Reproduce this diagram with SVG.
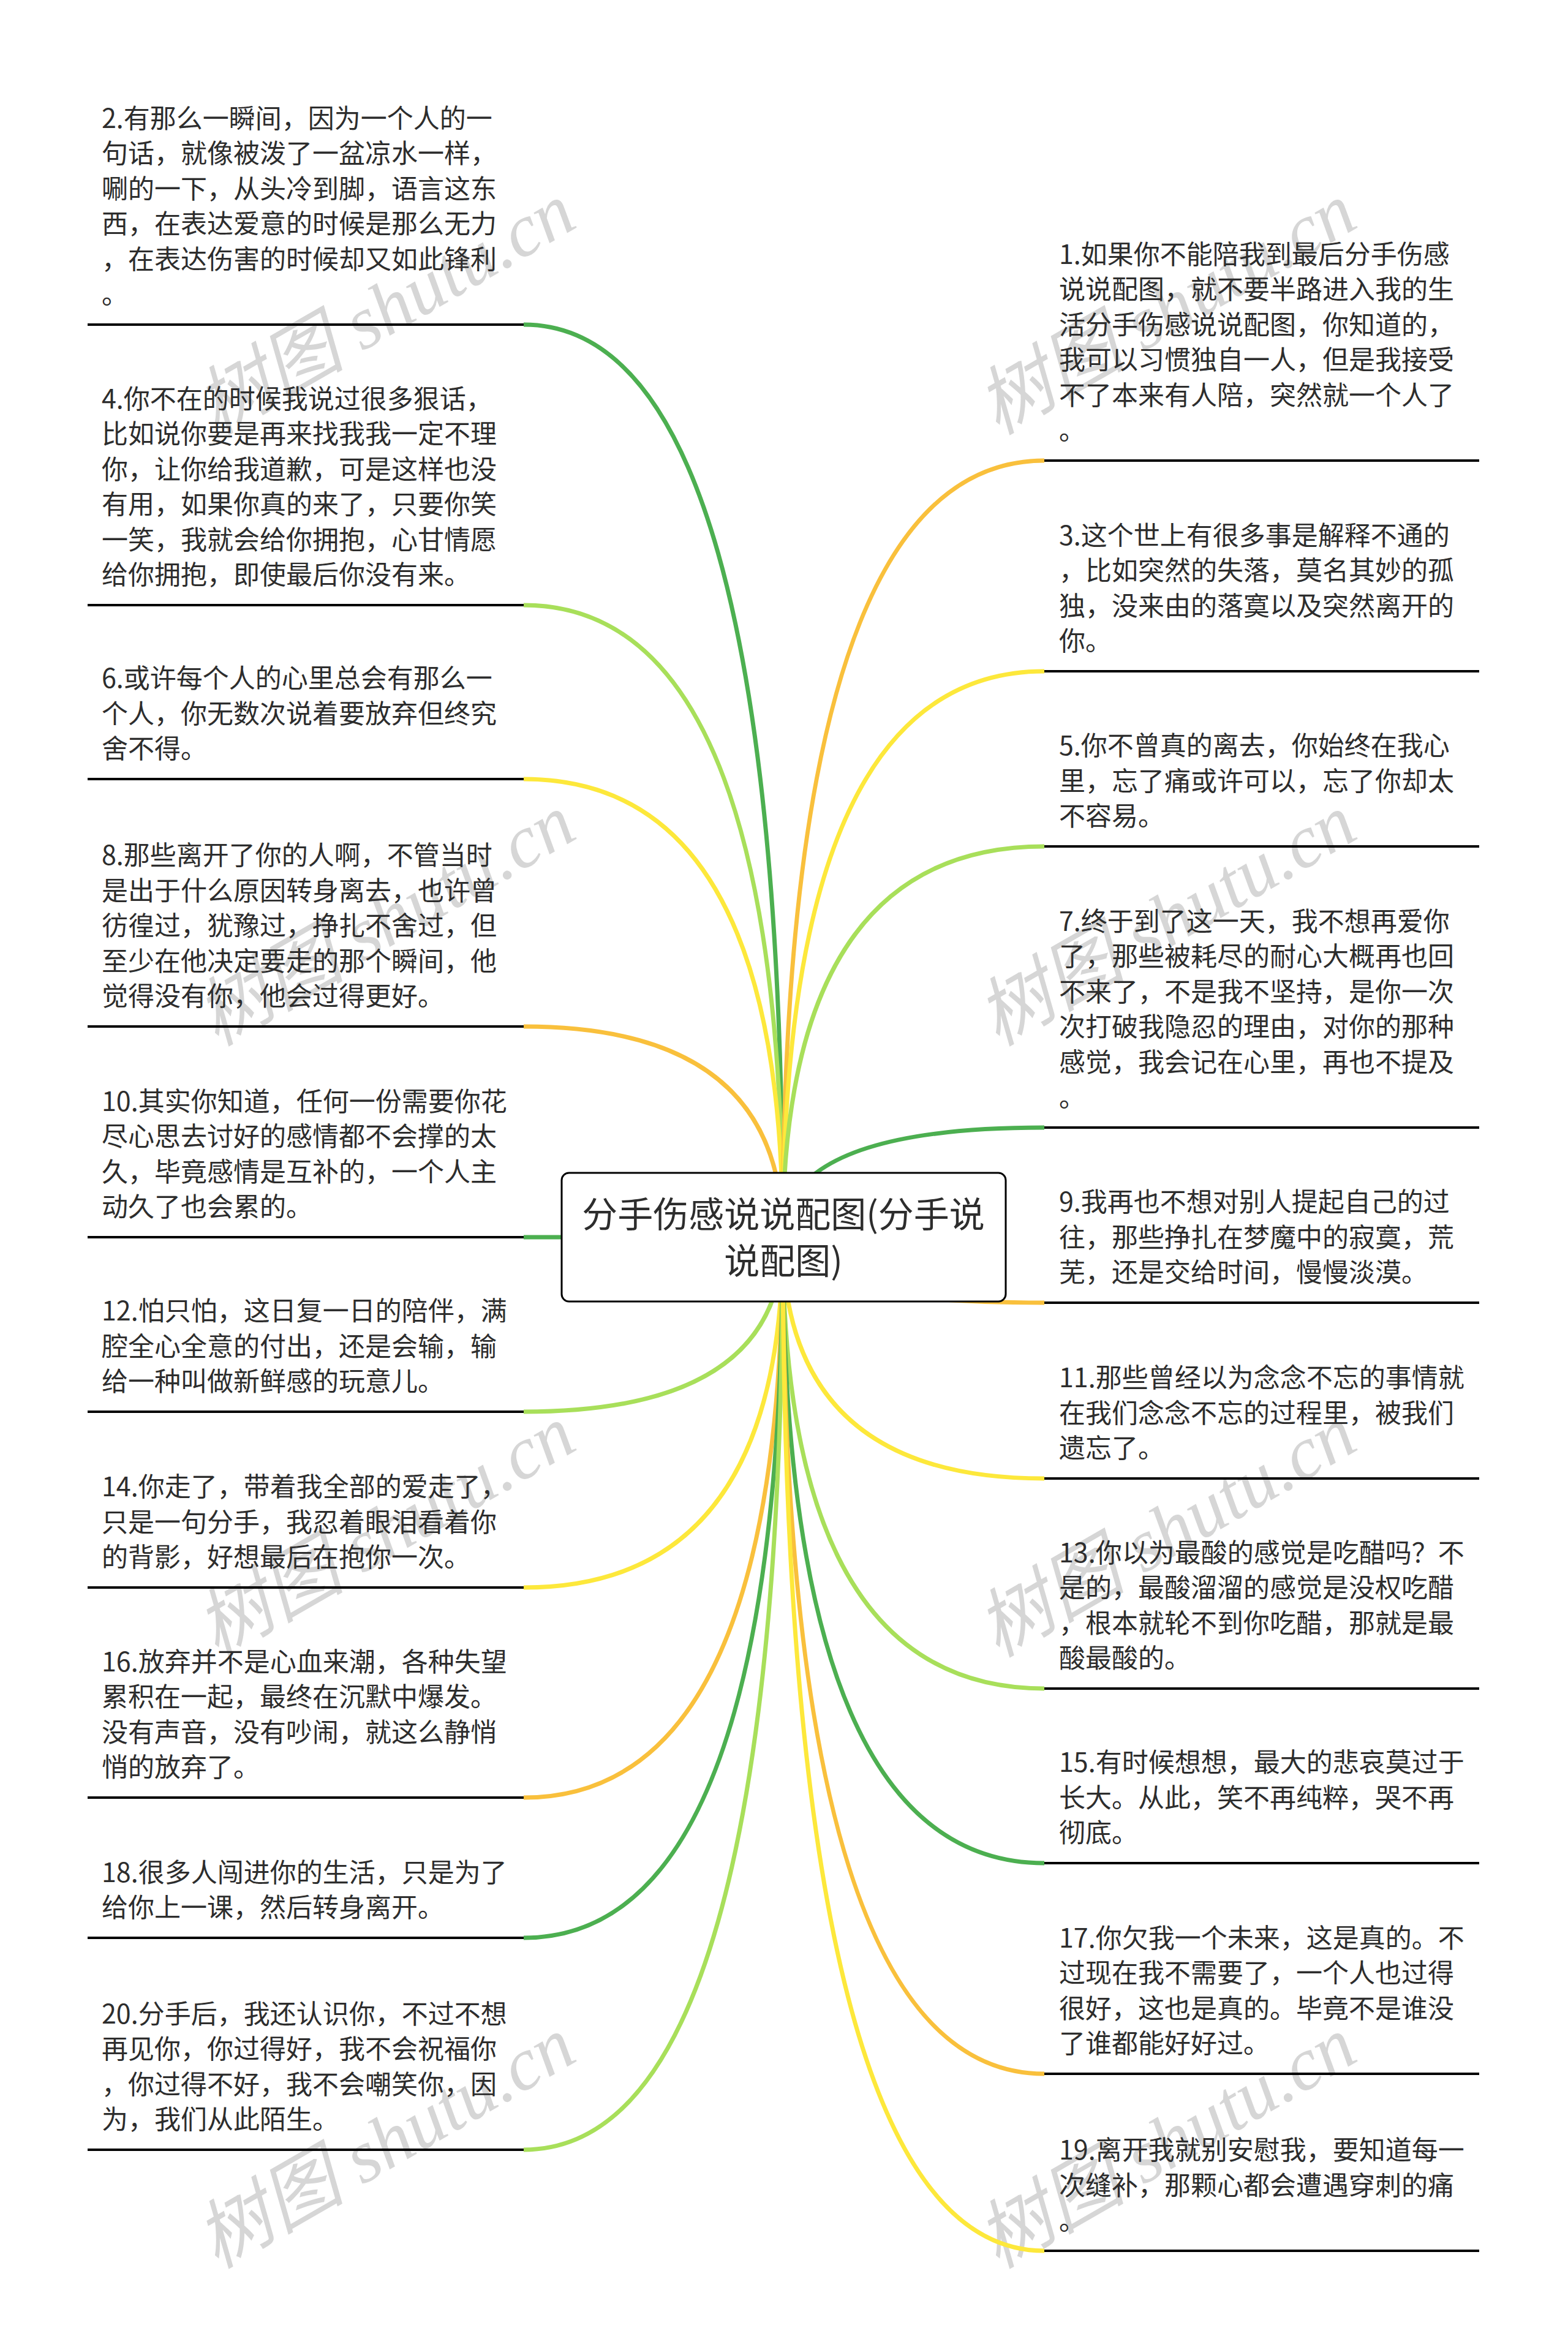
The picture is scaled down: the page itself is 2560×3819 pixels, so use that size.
<svg xmlns="http://www.w3.org/2000/svg" width="2560" height="3819" viewBox="0 0 2560 3819">
<style>
.t{font-family:"Noto Sans CJK SC","Noto Sans",sans-serif;font-size:43px;fill:#2d2d2d}
.rt{font-family:"Noto Sans CJK SC","Noto Sans",sans-serif;font-size:58px;fill:#2d2d2d;text-anchor:middle}
.ul{stroke:#000;stroke-width:4}
.c{fill:none;stroke-width:7}
.g{stroke:#4caf50}.l{stroke:#a8df5a}.y{stroke:#fde83b}.o{stroke:#f9c03c}
.wm{font-family:"Liberation Serif","Noto Sans CJK SC",serif;font-style:italic;font-size:122px;fill:#d6d6d6;text-anchor:middle}
</style>
<rect width="2560" height="3819" fill="#fff"/>
<g id="watermarks">
<text class="wm" transform="translate(650,540) rotate(-30)">树图 shutu.cn</text>
<text class="wm" transform="translate(1925,540) rotate(-30)">树图 shutu.cn</text>
<text class="wm" transform="translate(650,1538) rotate(-30)">树图 shutu.cn</text>
<text class="wm" transform="translate(1925,1538) rotate(-30)">树图 shutu.cn</text>
<text class="wm" transform="translate(650,2536) rotate(-30)">树图 shutu.cn</text>
<text class="wm" transform="translate(1925,2536) rotate(-30)">树图 shutu.cn</text>
<text class="wm" transform="translate(650,3534) rotate(-30)">树图 shutu.cn</text>
<text class="wm" transform="translate(1925,3534) rotate(-30)">树图 shutu.cn</text>
</g>
<g id="connectors">
<path class="c g" d="M1278,2020 Q1278,530 855,530"/>
<path class="c l" d="M1278,2020 Q1278,988 855,988"/>
<path class="c y" d="M1278,2020 Q1278,1272 855,1272"/>
<path class="c o" d="M1278,2020 Q1278,1676 855,1676"/>
<path class="c g" d="M1278,2020 L855,2020"/>
<path class="c l" d="M1278,2020 Q1278,2305 855,2305"/>
<path class="c y" d="M1278,2020 Q1278,2592 855,2592"/>
<path class="c o" d="M1278,2020 Q1278,2935 855,2935"/>
<path class="c g" d="M1278,2020 Q1278,3164 855,3164"/>
<path class="c l" d="M1278,2020 Q1278,3510 855,3510"/>
<path class="c o" d="M1278,2020 Q1278,752 1705,752"/>
<path class="c y" d="M1278,2020 Q1278,1096 1705,1096"/>
<path class="c l" d="M1278,2020 Q1278,1382 1705,1382"/>
<path class="c g" d="M1278,2020 Q1278,1841 1705,1841"/>
<path class="c o" d="M1278,2020 Q1278,2127 1705,2127"/>
<path class="c y" d="M1278,2020 Q1278,2414 1705,2414"/>
<path class="c l" d="M1278,2020 Q1278,2757 1705,2757"/>
<path class="c g" d="M1278,2020 Q1278,3042 1705,3042"/>
<path class="c o" d="M1278,2020 Q1278,3386 1705,3386"/>
<path class="c y" d="M1278,2020 Q1278,3675 1705,3675"/>
</g>
<g id="root">
<rect x="917" y="1915" width="725" height="210" rx="12" ry="12" fill="#fff" stroke="#000" stroke-width="3"/>
<text class="rt"><tspan x="1279" y="2004">分手伤感说说配图(分手说</tspan><tspan x="1279" y="2080">说配图)</tspan></text>
</g>
<g id="n2">
<text class="t"><tspan x="166" y="208.5">2.有那么一瞬间，因为一个人的一</tspan><tspan x="166" y="266">句话，就像被泼了一盆凉水一样，</tspan><tspan x="166" y="323.5">唰的一下，从头冷到脚，语言这东</tspan><tspan x="166" y="381">西，在表达爱意的时候是那么无力</tspan><tspan x="166" y="438.5">，在表达伤害的时候却又如此锋利</tspan><tspan x="166" y="496">。</tspan></text>
<line class="ul" x1="143" y1="530" x2="855" y2="530"/>
</g>
<g id="n4">
<text class="t"><tspan x="166" y="666.5">4.你不在的时候我说过很多狠话，</tspan><tspan x="166" y="724">比如说你要是再来找我我一定不理</tspan><tspan x="166" y="781.5">你，让你给我道歉，可是这样也没</tspan><tspan x="166" y="839">有用，如果你真的来了，只要你笑</tspan><tspan x="166" y="896.5">一笑，我就会给你拥抱，心甘情愿</tspan><tspan x="166" y="954">给你拥抱，即使最后你没有来。</tspan></text>
<line class="ul" x1="143" y1="988" x2="855" y2="988"/>
</g>
<g id="n6">
<text class="t"><tspan x="166" y="1123">6.或许每个人的心里总会有那么一</tspan><tspan x="166" y="1180.5">个人，你无数次说着要放弃但终究</tspan><tspan x="166" y="1238">舍不得。</tspan></text>
<line class="ul" x1="143" y1="1272" x2="855" y2="1272"/>
</g>
<g id="n8">
<text class="t"><tspan x="166" y="1412">8.那些离开了你的人啊，不管当时</tspan><tspan x="166" y="1469.5">是出于什么原因转身离去，也许曾</tspan><tspan x="166" y="1527">彷徨过，犹豫过，挣扎不舍过，但</tspan><tspan x="166" y="1584.5">至少在他决定要走的那个瞬间，他</tspan><tspan x="166" y="1642">觉得没有你，他会过得更好。</tspan></text>
<line class="ul" x1="143" y1="1676" x2="855" y2="1676"/>
</g>
<g id="n10">
<text class="t"><tspan x="166" y="1813.5">10.其实你知道，任何一份需要你花</tspan><tspan x="166" y="1871">尽心思去讨好的感情都不会撑的太</tspan><tspan x="166" y="1928.5">久，毕竟感情是互补的，一个人主</tspan><tspan x="166" y="1986">动久了也会累的。</tspan></text>
<line class="ul" x1="143" y1="2020" x2="855" y2="2020"/>
</g>
<g id="n12">
<text class="t"><tspan x="166" y="2156">12.怕只怕，这日复一日的陪伴，满</tspan><tspan x="166" y="2213.5">腔全心全意的付出，还是会输，输</tspan><tspan x="166" y="2271">给一种叫做新鲜感的玩意儿。</tspan></text>
<line class="ul" x1="143" y1="2305" x2="855" y2="2305"/>
</g>
<g id="n14">
<text class="t"><tspan x="166" y="2443">14.你走了，带着我全部的爱走了，</tspan><tspan x="166" y="2500.5">只是一句分手，我忍着眼泪看着你</tspan><tspan x="166" y="2558">的背影，好想最后在抱你一次。</tspan></text>
<line class="ul" x1="143" y1="2592" x2="855" y2="2592"/>
</g>
<g id="n16">
<text class="t"><tspan x="166" y="2728.5">16.放弃并不是心血来潮，各种失望</tspan><tspan x="166" y="2786">累积在一起，最终在沉默中爆发。</tspan><tspan x="166" y="2843.5">没有声音，没有吵闹，就这么静悄</tspan><tspan x="166" y="2901">悄的放弃了。</tspan></text>
<line class="ul" x1="143" y1="2935" x2="855" y2="2935"/>
</g>
<g id="n18">
<text class="t"><tspan x="166" y="3072.5">18.很多人闯进你的生活，只是为了</tspan><tspan x="166" y="3130">给你上一课，然后转身离开。</tspan></text>
<line class="ul" x1="143" y1="3164" x2="855" y2="3164"/>
</g>
<g id="n20">
<text class="t"><tspan x="166" y="3303.5">20.分手后，我还认识你，不过不想</tspan><tspan x="166" y="3361">再见你，你过得好，我不会祝福你</tspan><tspan x="166" y="3418.5">，你过得不好，我不会嘲笑你，因</tspan><tspan x="166" y="3476">为，我们从此陌生。</tspan></text>
<line class="ul" x1="143" y1="3510" x2="855" y2="3510"/>
</g>
<g id="n1">
<text class="t"><tspan x="1729" y="430.5">1.如果你不能陪我到最后分手伤感</tspan><tspan x="1729" y="488">说说配图，就不要半路进入我的生</tspan><tspan x="1729" y="545.5">活分手伤感说说配图，你知道的，</tspan><tspan x="1729" y="603">我可以习惯独自一人，但是我接受</tspan><tspan x="1729" y="660.5">不了本来有人陪，突然就一个人了</tspan><tspan x="1729" y="718">。</tspan></text>
<line class="ul" x1="1705" y1="752" x2="2415" y2="752"/>
</g>
<g id="n3">
<text class="t"><tspan x="1729" y="889.5">3.这个世上有很多事是解释不通的</tspan><tspan x="1729" y="947">，比如突然的失落，莫名其妙的孤</tspan><tspan x="1729" y="1004.5">独，没来由的落寞以及突然离开的</tspan><tspan x="1729" y="1062">你。</tspan></text>
<line class="ul" x1="1705" y1="1096" x2="2415" y2="1096"/>
</g>
<g id="n5">
<text class="t"><tspan x="1729" y="1233">5.你不曾真的离去，你始终在我心</tspan><tspan x="1729" y="1290.5">里，忘了痛或许可以，忘了你却太</tspan><tspan x="1729" y="1348">不容易。</tspan></text>
<line class="ul" x1="1705" y1="1382" x2="2415" y2="1382"/>
</g>
<g id="n7">
<text class="t"><tspan x="1729" y="1519.5">7.终于到了这一天，我不想再爱你</tspan><tspan x="1729" y="1577">了，那些被耗尽的耐心大概再也回</tspan><tspan x="1729" y="1634.5">不来了，不是我不坚持，是你一次</tspan><tspan x="1729" y="1692">次打破我隐忍的理由，对你的那种</tspan><tspan x="1729" y="1749.5">感觉，我会记在心里，再也不提及</tspan><tspan x="1729" y="1807">。</tspan></text>
<line class="ul" x1="1705" y1="1841" x2="2415" y2="1841"/>
</g>
<g id="n9">
<text class="t"><tspan x="1729" y="1978">9.我再也不想对别人提起自己的过</tspan><tspan x="1729" y="2035.5">往，那些挣扎在梦魔中的寂寞，荒</tspan><tspan x="1729" y="2093">芜，还是交给时间，慢慢淡漠。</tspan></text>
<line class="ul" x1="1705" y1="2127" x2="2415" y2="2127"/>
</g>
<g id="n11">
<text class="t"><tspan x="1729" y="2265">11.那些曾经以为念念不忘的事情就</tspan><tspan x="1729" y="2322.5">在我们念念不忘的过程里，被我们</tspan><tspan x="1729" y="2380">遗忘了。</tspan></text>
<line class="ul" x1="1705" y1="2414" x2="2415" y2="2414"/>
</g>
<g id="n13">
<text class="t"><tspan x="1729" y="2550.5">13.你以为最酸的感觉是吃醋吗？不</tspan><tspan x="1729" y="2608">是的，最酸溜溜的感觉是没权吃醋</tspan><tspan x="1729" y="2665.5">，根本就轮不到你吃醋，那就是最</tspan><tspan x="1729" y="2723">酸最酸的。</tspan></text>
<line class="ul" x1="1705" y1="2757" x2="2415" y2="2757"/>
</g>
<g id="n15">
<text class="t"><tspan x="1729" y="2893">15.有时候想想，最大的悲哀莫过于</tspan><tspan x="1729" y="2950.5">长大。从此，笑不再纯粹，哭不再</tspan><tspan x="1729" y="3008">彻底。</tspan></text>
<line class="ul" x1="1705" y1="3042" x2="2415" y2="3042"/>
</g>
<g id="n17">
<text class="t"><tspan x="1729" y="3179.5">17.你欠我一个未来，这是真的。不</tspan><tspan x="1729" y="3237">过现在我不需要了，一个人也过得</tspan><tspan x="1729" y="3294.5">很好，这也是真的。毕竟不是谁没</tspan><tspan x="1729" y="3352">了谁都能好好过。</tspan></text>
<line class="ul" x1="1705" y1="3386" x2="2415" y2="3386"/>
</g>
<g id="n19">
<text class="t"><tspan x="1729" y="3526">19.离开我就别安慰我，要知道每一</tspan><tspan x="1729" y="3583.5">次缝补，那颗心都会遭遇穿刺的痛</tspan><tspan x="1729" y="3641">。</tspan></text>
<line class="ul" x1="1705" y1="3675" x2="2415" y2="3675"/>
</g>
</svg>
